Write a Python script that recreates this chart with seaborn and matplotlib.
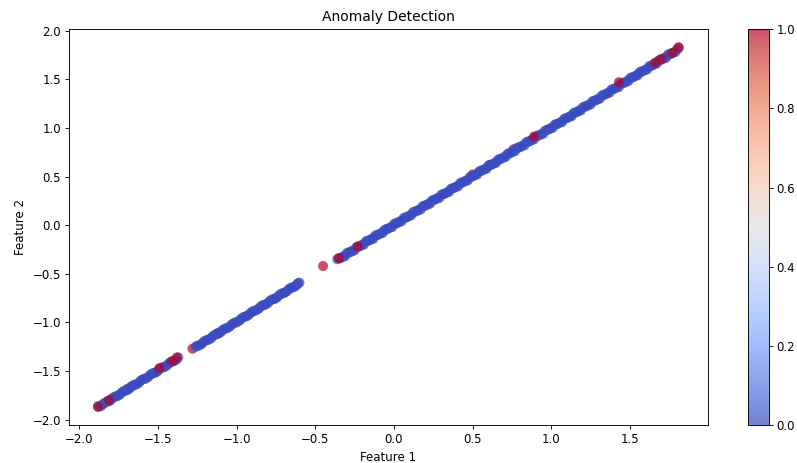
import numpy as np
import pandas as pd
import seaborn as sns
import matplotlib.pyplot as plt
from matplotlib.cm import ScalarMappable
from matplotlib.colors import Normalize

# normal points (label 0)
normal_x = [-1.88, -1.85, -1.82, -1.79, -1.76, -1.73, -1.70, -1.67, -1.64, -1.61, -1.58, -1.55,
            -1.52, -1.49, -1.46, -1.43, -1.40, -1.37,
            -1.26, -1.23, -1.20, -1.17, -1.14, -1.11, -1.08, -1.05, -1.02, -0.99, -0.96, -0.93,
            -0.90, -0.87, -0.84, -0.81, -0.78, -0.75, -0.72, -0.69, -0.66, -0.63, -0.60,
            -0.36, -0.33, -0.30, -0.27, -0.24, -0.21, -0.18, -0.15, -0.12, -0.09, -0.06, -0.03,
            0.00, 0.03, 0.06, 0.09, 0.12, 0.15, 0.18, 0.21, 0.24, 0.27, 0.30, 0.33, 0.36, 0.39,
            0.42, 0.45, 0.48, 0.51, 0.54, 0.57, 0.60, 0.63, 0.66, 0.69, 0.72, 0.75, 0.78, 0.81,
            0.84, 0.87, 0.90, 0.93, 0.96, 0.99, 1.02, 1.05, 1.08, 1.11, 1.14, 1.17, 1.20, 1.23,
            1.26, 1.29, 1.32, 1.35, 1.38, 1.41, 1.44, 1.47, 1.50, 1.53, 1.56, 1.59, 1.62, 1.65,
            1.68, 1.71, 1.74, 1.77, 1.80]
normal_y = [-1.86, -1.84, -1.81, -1.78, -1.76, -1.72, -1.70, -1.66, -1.64, -1.60, -1.58, -1.54,
            -1.52, -1.48, -1.46, -1.42, -1.40, -1.36,
            -1.25, -1.23, -1.19, -1.17, -1.13, -1.11, -1.07, -1.05, -1.01, -0.99, -0.95, -0.93,
            -0.89, -0.87, -0.83, -0.81, -0.77, -0.75, -0.71, -0.69, -0.65, -0.63, -0.59,
            -0.35, -0.33, -0.29, -0.27, -0.23, -0.21, -0.17, -0.15, -0.11, -0.09, -0.05, -0.03,
            0.01, 0.03, 0.07, 0.09, 0.13, 0.15, 0.19, 0.21, 0.25, 0.27, 0.31, 0.33, 0.37, 0.39,
            0.43, 0.45, 0.49, 0.51, 0.55, 0.57, 0.61, 0.63, 0.67, 0.69, 0.73, 0.75, 0.79, 0.81,
            0.85, 0.87, 0.91, 0.93, 0.97, 0.99, 1.03, 1.05, 1.09, 1.11, 1.15, 1.17, 1.21, 1.23,
            1.27, 1.29, 1.33, 1.35, 1.39, 1.41, 1.45, 1.47, 1.51, 1.53, 1.57, 1.59, 1.63, 1.65,
            1.69, 1.71, 1.75, 1.77, 1.81]

# the band is solid in the reference, so two more rows of normal points
normal2_x = [-1.87, -1.84, -1.81, -1.78, -1.75, -1.72, -1.69, -1.66, -1.63, -1.60, -1.57, -1.54,
             -1.51, -1.48, -1.45, -1.42, -1.39,
             -1.25, -1.22, -1.19, -1.16, -1.13, -1.10, -1.07, -1.04, -1.01, -0.98, -0.95,
             -0.92, -0.89, -0.86, -0.83, -0.80, -0.77, -0.74, -0.71, -0.68, -0.65, -0.62,
             -0.35, -0.32, -0.29, -0.26, -0.23, -0.20, -0.17, -0.14, -0.11, -0.08, -0.05, -0.02,
             0.01, 0.04, 0.07, 0.10, 0.13, 0.16, 0.19, 0.22, 0.25, 0.28, 0.31, 0.34,
             0.37, 0.40, 0.43, 0.46, 0.49, 0.52, 0.55, 0.58, 0.61, 0.64, 0.67, 0.70,
             0.73, 0.76, 0.79, 0.82, 0.85, 0.88, 0.91, 0.94, 0.97, 1.00, 1.03, 1.06,
             1.09, 1.12, 1.15, 1.18, 1.21, 1.24, 1.27, 1.30, 1.33, 1.36, 1.39, 1.42,
             1.45, 1.48, 1.51, 1.54, 1.57, 1.60, 1.63, 1.66, 1.69, 1.72, 1.75, 1.78, 1.81]
normal2_y = [-1.86, -1.83, -1.81, -1.77, -1.75, -1.71, -1.69, -1.65, -1.63, -1.59, -1.57, -1.53,
             -1.51, -1.47, -1.45, -1.41, -1.39,
             -1.24, -1.22, -1.18, -1.16, -1.12, -1.10, -1.06, -1.04, -1.00, -0.98, -0.94,
             -0.92, -0.88, -0.86, -0.82, -0.80, -0.76, -0.74, -0.70, -0.68, -0.64, -0.62,
             -0.34, -0.32, -0.28, -0.26, -0.22, -0.20, -0.16, -0.14, -0.10, -0.08, -0.04, -0.02,
             0.02, 0.04, 0.08, 0.10, 0.14, 0.16, 0.20, 0.22, 0.26, 0.28, 0.32, 0.34,
             0.38, 0.40, 0.44, 0.46, 0.50, 0.52, 0.56, 0.58, 0.62, 0.64, 0.68, 0.70,
             0.74, 0.76, 0.80, 0.82, 0.86, 0.88, 0.92, 0.94, 0.98, 1.00, 1.04, 1.06,
             1.10, 1.12, 1.16, 1.18, 1.22, 1.24, 1.28, 1.30, 1.34, 1.36, 1.40, 1.42,
             1.46, 1.48, 1.52, 1.54, 1.58, 1.60, 1.64, 1.66, 1.70, 1.72, 1.76, 1.78, 1.82]
normal3_x = [-1.86, -1.83, -1.80, -1.77, -1.74, -1.71, -1.68, -1.65, -1.62, -1.59, -1.56, -1.53,
             -1.50, -1.47, -1.44, -1.41, -1.38,
             -1.24, -1.21, -1.18, -1.15, -1.12, -1.09, -1.06, -1.03, -1.00, -0.97, -0.94,
             -0.91, -0.88, -0.85, -0.82, -0.79, -0.76, -0.73, -0.70, -0.67, -0.64, -0.61,
             -0.34, -0.31, -0.28, -0.25, -0.22, -0.19, -0.16, -0.13, -0.10, -0.07, -0.04, -0.01,
             0.02, 0.05, 0.08, 0.11, 0.14, 0.17, 0.20, 0.23, 0.26, 0.29, 0.32, 0.35,
             0.38, 0.41, 0.44, 0.47, 0.50, 0.53, 0.56, 0.59, 0.62, 0.65, 0.68, 0.71,
             0.74, 0.77, 0.80, 0.83, 0.86, 0.89, 0.92, 0.95, 0.98, 1.01, 1.04, 1.07,
             1.10, 1.13, 1.16, 1.19, 1.22, 1.25, 1.28, 1.31, 1.34, 1.37, 1.40, 1.43,
             1.46, 1.49, 1.52, 1.55, 1.58, 1.61, 1.64, 1.67, 1.70, 1.73, 1.76, 1.79]
normal3_y = [-1.86, -1.82, -1.80, -1.76, -1.74, -1.70, -1.68, -1.64, -1.62, -1.58, -1.56, -1.52,
             -1.50, -1.46, -1.44, -1.40, -1.38,
             -1.24, -1.20, -1.18, -1.14, -1.12, -1.08, -1.06, -1.02, -1.00, -0.96, -0.94,
             -0.90, -0.88, -0.84, -0.82, -0.78, -0.76, -0.72, -0.70, -0.66, -0.64, -0.60,
             -0.34, -0.32, -0.28, -0.26, -0.22, -0.20, -0.16, -0.14, -0.10, -0.08, -0.04, -0.02,
             0.02, 0.04, 0.08, 0.10, 0.14, 0.16, 0.20, 0.22, 0.26, 0.28, 0.32, 0.34,
             0.38, 0.40, 0.44, 0.46, 0.50, 0.52, 0.56, 0.58, 0.62, 0.64, 0.68, 0.70,
             0.74, 0.76, 0.80, 0.82, 0.86, 0.88, 0.92, 0.94, 0.98, 1.00, 1.04, 1.06,
             1.10, 1.12, 1.16, 1.18, 1.22, 1.24, 1.28, 1.30, 1.34, 1.36, 1.40, 1.42,
             1.46, 1.48, 1.52, 1.54, 1.58, 1.60, 1.64, 1.66, 1.70, 1.72, 1.76, 1.78]

# anomalies hidden under the band (drawn first)
hidden_x = [-1.69, -1.28, -1.12, -0.61, 0.50, 0.61, 0.76]
hidden_y = [-1.68, -1.27, -1.11, -0.60, 0.52, 0.62, 0.78]

# anomalies drawn on top
anomaly_x = [-1.88, -1.81, -1.49, -1.41, -1.38, -0.45, -0.35, -0.23, 0.89, 1.43, 1.66, 1.70, 1.77, 1.81]
anomaly_y = [-1.87, -1.80, -1.47, -1.40, -1.36, -0.42, -0.34, -0.22, 0.91, 1.47, 1.67, 1.71, 1.77, 1.83]

n_normal = len(normal_x) + len(normal2_x) + len(normal3_x)
df = pd.DataFrame({
    'Feature 1': hidden_x + normal_x + normal2_x + normal3_x + anomaly_x,
    'Feature 2': hidden_y + normal_y + normal2_y + normal3_y + anomaly_y,
    'anomaly': [1] * len(hidden_x) + [0] * n_normal + [1] * len(anomaly_x),
})

# reference looks like a 10x6 figure shrunk to ~80%
plt.rcParams.update({
    'font.size': 8.5,
    'axes.titlesize': 10,
    'axes.linewidth': 0.64,
    'xtick.major.size': 2.8, 'ytick.major.size': 2.8,
    'xtick.major.width': 0.64, 'ytick.major.width': 0.64,
    'xtick.major.pad': 2.8, 'ytick.major.pad': 2.8,
})

fig = plt.figure(figsize=(7.97, 4.63), dpi=100)
ax = fig.add_axes([0.0866, 0.082, 0.8014, 0.855])
cax = fig.add_axes([0.9385, 0.082, 0.0263, 0.855])

sns.scatterplot(data=df, x='Feature 1', y='Feature 2', hue='anomaly', palette='coolwarm',
                hue_norm=(0, 1), alpha=0.7, s=52, linewidth=0, legend=False, ax=ax)

ax.set_title('Anomaly Detection')
ax.set_xlabel('Feature 1')
ax.set_ylabel('Feature 2')

sm = ScalarMappable(norm=Normalize(0, 1), cmap='coolwarm')
cbar = fig.colorbar(sm, cax=cax, alpha=0.7)
cbar.outline.set_linewidth(0.64)

fig.savefig('out.png', dpi=100)
